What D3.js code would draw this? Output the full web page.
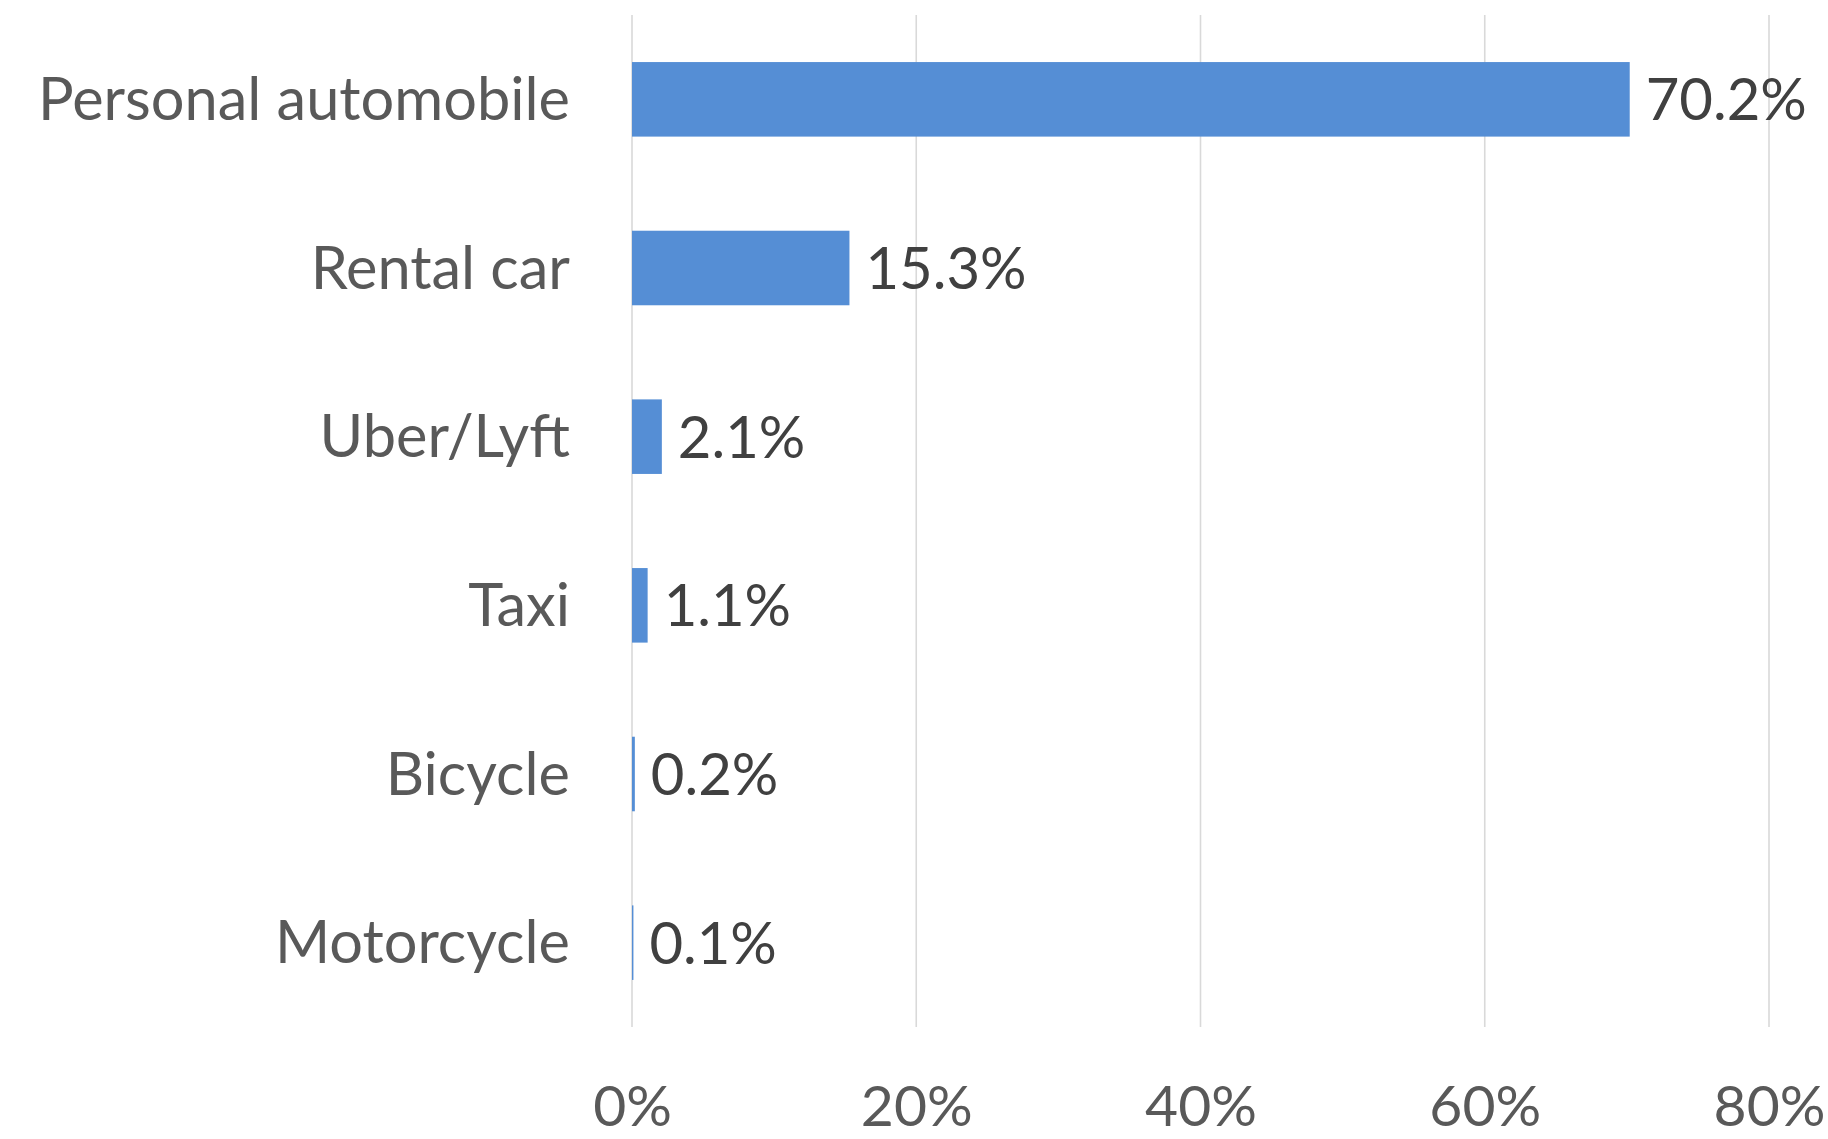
<!DOCTYPE html>
<html>
<head>
<meta charset="utf-8">
<script src="https://cdn.jsdelivr.net/npm/d3@7"></script>
<style>
  html, body { margin: 0; padding: 0; background: #ffffff; }
  svg { display: block; }
  text { font-family: Lato, "Open Sans", sans-serif; }
</style>
</head>
<body>
<svg id="chart" width="1828" height="1139"></svg>
<script>
// Share of trips by mode of transport
const categories = ["Personal automobile", "Rental car", "Uber/Lyft", "Taxi", "Bicycle", "Motorcycle"];
const values = [70.2, 15.3, 2.1, 1.1, 0.2, 0.1];
const tickValues = [0, 20, 40, 60, 80];
const tickLabels = ["0%", "20%", "40%", "60%", "80%"];

const width = 1828, height = 1139;
const margin = { top: 15, right: 59, bottom: 112, left: 632 };
const plotW = width - margin.left - margin.right;
const plotH = height - margin.top - margin.bottom;

const svg = d3.select("#chart");
const g = svg.append("g").attr("transform", `translate(${margin.left},${margin.top})`);

const x = d3.scaleLinear().domain([0, 80]).range([0, plotW]);
const y = d3.scaleBand().domain(categories).range([0, plotH]).paddingInner(0.558).paddingOuter(0.279);

// vertical gridlines
g.selectAll("line.grid")
  .data(tickValues)
  .join("line")
  .attr("class", "grid")
  .attr("x1", d => x(d)).attr("x2", d => x(d))
  .attr("y1", 0).attr("y2", plotH)
  .attr("stroke", "#d9d9d9")
  .attr("stroke-width", 1.6);

// bars
g.selectAll("rect.bar")
  .data(categories)
  .join("rect")
  .attr("class", "bar")
  .attr("x", x(0))
  .attr("y", d => y(d))
  .attr("width", (d, i) => x(values[i]) - x(0))
  .attr("height", y.bandwidth())
  .attr("fill", "#558ed5");

// value labels
g.selectAll("text.value")
  .data(categories)
  .join("text")
  .attr("class", "value")
  .attr("x", (d, i) => x(values[i]) + 16)
  .attr("y", d => y(d) + y.bandwidth() / 2)
  .attr("dy", "0.36em")
  .attr("fill", "#404040")
  .attr("font-size", 58)
  .text((d, i) => values[i].toFixed(1) + "%");

// category axis labels
g.selectAll("text.cat")
  .data(categories)
  .join("text")
  .attr("class", "cat")
  .attr("x", -62)
  .attr("y", d => y(d) + y.bandwidth() / 2)
  .attr("dy", "0.35em")
  .attr("text-anchor", "end")
  .attr("fill", "#595959")
  .attr("font-size", 59.5)
  .text(d => d);

// value axis labels
const xAxis = d3.axisBottom(x)
  .tickValues(tickValues)
  .tickFormat((d, i) => tickLabels[i])
  .tickSize(0)
  .tickPadding(0);

const ax = g.append("g")
  .attr("transform", `translate(0,${plotH})`)
  .call(xAxis);
ax.select(".domain").remove();
ax.selectAll("text")
  .attr("font-family", "Lato, 'Open Sans', sans-serif")
  .attr("font-size", 57)
  .attr("fill", "#595959")
  .attr("dy", null)
  .attr("y", 99);
</script>
</body>
</html>
